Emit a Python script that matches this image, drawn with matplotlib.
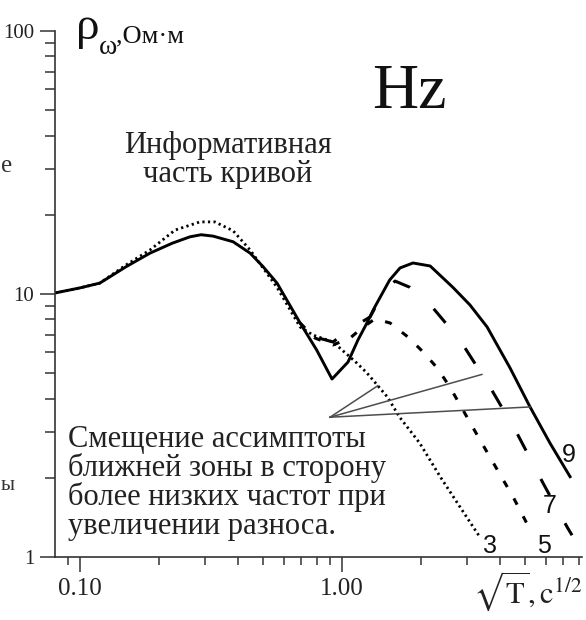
import numpy as np
import matplotlib
matplotlib.use('Agg')
import matplotlib.pyplot as plt
from matplotlib.ticker import FixedLocator, FixedFormatter, NullFormatter

plt.rcParams['font.family'] = ['Liberation Serif', 'DejaVu Serif']
plt.rcParams['mathtext.fontset'] = 'stix'

# кривые кажущегося сопротивления rho_w(sqrt T) для разносов 3, 5, 7, 9
x9 = [0.0803, 0.1, 0.119, 0.15, 0.185, 0.225, 0.263, 0.29, 0.322, 0.384, 0.446,
      0.50, 0.565, 0.692, 0.80, 0.916, 1.054, 1.15, 1.245, 1.32, 1.40, 1.52,
      1.665, 1.866, 2.17, 2.65, 3.08, 3.58, 4.38, 5.22, 6.22, 7.42]
r9 = [10.09, 10.55, 11.0, 12.7, 14.3, 15.6, 16.5, 16.8, 16.6, 15.8, 14.3,
      12.7, 11.0, 7.76, 6.13, 4.75, 5.51, 6.68, 7.76, 8.75, 9.74, 11.3,
      12.56, 13.12, 12.78, 10.6, 9.08, 7.49, 5.23, 3.72, 2.71, 2.02]

x7 = [0.692, 0.789, 0.924, 1.074, 1.28, 1.434, 1.594, 1.817, 2.13, 2.82, 3.67,
      4.65, 5.85, 7.23, 7.55]
r7 = [7.76, 6.86, 6.57, 7.36, 8.18, 10.09, 11.2, 10.6, 9.32, 6.68, 4.43,
      2.96, 1.91, 1.30, 1.21]

x5 = [0.692, 0.789, 0.924, 1.074, 1.192, 1.336, 1.525, 1.786, 2.04, 2.31, 2.58,
      3.36, 4.50, 5.31]
r5 = [7.76, 6.80, 6.40, 6.80, 7.43, 8.04, 7.76, 6.86, 6.02, 5.23, 4.43,
      2.79, 1.69, 1.23]

x3 = [0.0803, 0.1, 0.119, 0.15, 0.185, 0.2305, 0.287, 0.327, 0.384, 0.446, 0.565,
      0.692, 0.775, 0.924, 1.14, 1.245, 1.49, 1.66, 1.98, 2.37, 2.82, 3.36]
r3 = [10.09, 10.55, 11.0, 12.9, 14.7, 17.5, 18.8, 18.8, 17.4, 14.7, 10.6,
      7.49, 6.98, 6.57, 5.46, 5.01, 4.06, 3.40, 2.71, 2.02, 1.55, 1.19]

# точки асимптоты ближней зоны на кривых 3, 7, 9
asym_from = (0.90, 3.40)
asym_x = [1.37, 3.42, 5.22]

x_major = [0.1, 1.0]
x_major_labels = ['0.10', '1.00']
x_minor = [0.09, 0.2, 0.3, 0.4, 0.5, 0.6, 0.7, 0.8, 0.9, 2, 3, 4, 5, 6, 7, 8]
y_major = [1, 10, 100]
y_major_labels = ['1', '10', '100']
y_minor = [2, 3, 4, 5, 6, 7, 8, 9, 20, 30, 40, 50, 60, 70, 80, 90]

note_lines = ['Смещение ассимптоты', 'ближней зоны в сторону',
              'более низких частот при', 'увеличении разноса.']


def logint(x, xs, ys):
    return 10 ** np.interp(np.log10(x), np.log10(xs), np.log10(ys))


W, H = 586, 620
fig = plt.figure(figsize=(W / 100, H / 100), dpi=100)
ax = fig.add_axes([55 / W, 63 / H, 527 / W, 526 / H])
ax.set_xscale('log')
ax.set_yscale('log')
ax.set_xlim(0.0803, 8.24)
ax.set_ylim(1, 100)

ax.plot(x9, r9, color='k', lw=2.1)
ax.plot(x7, r7, color='k', lw=2.2, linestyle=(8.25, (6, 10.5)))
ax.plot(x5, r5, color='k', lw=2.2, dashes=(2.3, 4.3))
ax.plot(x3, r3, color='k', lw=2.0, dashes=(0.8, 1.2))

ends = [(asym_x[0], logint(asym_x[0], x3, r3)),
        (asym_x[1], logint(asym_x[1], x7, r7)),
        (asym_x[2], logint(asym_x[2], x9, r9))]
for ex, ey in ends:
    ax.plot([asym_from[0], ex], [asym_from[1], ey], color='#4d4d4d', lw=1.1)

for s in ['top', 'right']:
    ax.spines[s].set_visible(False)
for s in ['left', 'bottom']:
    ax.spines[s].set_color('#333333')
    ax.spines[s].set_linewidth(1.2)

ax.xaxis.set_major_locator(FixedLocator(x_major))
ax.xaxis.set_major_formatter(FixedFormatter(x_major_labels))
ax.xaxis.set_minor_locator(FixedLocator(x_minor))
ax.xaxis.set_minor_formatter(NullFormatter())
ax.yaxis.set_major_locator(FixedLocator(y_major))
ax.yaxis.set_major_formatter(FixedFormatter(y_major_labels))
ax.yaxis.set_minor_locator(FixedLocator(y_minor))
ax.yaxis.set_minor_formatter(NullFormatter())

ax.tick_params(axis='x', which='major', length=11, width=1.1, labelsize=18,
               pad=4, color='#333333', labelcolor='#222222')
ax.tick_params(axis='x', which='minor', length=6, width=1.1, color='#333333')
ax.tick_params(axis='y', which='major', length=11, width=1.1, labelsize=15,
               pad=4, color='#333333', labelcolor='#222222')
ax.tick_params(axis='y', which='minor', length=7, width=1.1, color='#333333')


def px(x, y):
    return x / W, 1 - y / H


# подпись оси ординат
fig.text(*px(76, 39), 'ρ', fontsize=34, va='baseline', color='#111111')
fig.text(*px(99, 54), 'ω', fontsize=20, va='baseline', color='#111111')
fig.text(*px(116, 42), ',Ом·м', fontsize=19, va='baseline', color='#111111')

fig.text(*px(372, 108), 'Hz', fontsize=46, va='baseline', color='#111111')

fig.text(*px(228, 153), 'Информативная', fontsize=22, ha='center',
         va='baseline', color='#222222')
fig.text(*px(228, 182), 'часть кривой', fontsize=22, ha='center',
         va='baseline', color='#222222')

for i, line in enumerate(note_lines):
    fig.text(*px(68, 447 + 29 * i), line, fontsize=22, va='baseline',
             color='#222222')

# номера кривых
for lab, (lx, ly) in zip(['9', '7', '5', '3'],
                         [(562, 462), (543, 513), (537, 553), (483, 553)]):
    fig.text(*px(lx, ly), lab, fontsize=18, va='baseline',
             family=['Liberation Sans', 'DejaVu Sans'], color='#111111')

fig.text(*px(582, 603), r'$\sqrt{\mathrm{T}}\mathrm{,c}^{1/2}$', fontsize=22,
         ha='right', va='baseline', color='#222222')

# обрывки соседнего текста у левого края
fig.text(*px(1, 172), 'е', fontsize=18, va='baseline', color='#333333')
fig.text(*px(1, 490), 'ы', fontsize=15, va='baseline', color='#333333')

fig.savefig('out.png', dpi=100, facecolor='white')
